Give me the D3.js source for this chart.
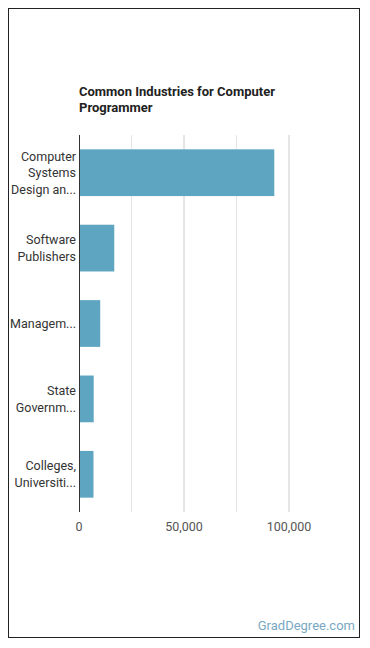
<!DOCTYPE html>
<html><head><meta charset="utf-8">
<script src="https://cdn.jsdelivr.net/npm/d3@7"></script>
<style>body{margin:0;background:#fff;font-family:Roboto,sans-serif;}</style>
</head><body>
<svg id="c" width="370" height="648"></svg>
<script>
const categories = [["Computer","Systems","Design an..."],["Software","Publishers"],["Managem..."],["State","Governm..."],["Colleges,","Universiti..."]];
const values = [93000, 16800, 10100, 7000, 6900];
const ticks = [0, 25000, 50000, 75000, 100000];
const tickLabels = ["0", "", "50,000", "", "100,000"];
const title = ["Common Industries for Computer", "Programmer"];

const svg = d3.select("#c");
svg.append("rect").attr("x",8.5).attr("y",8.5).attr("width",351).attr("height",629)
  .attr("fill","#fff").attr("stroke","#222").attr("stroke-width",1);

const x = d3.scaleLinear().domain([0,100000]).range([79,289]);
const y = d3.scaleBand().domain(d3.range(categories.length)).range([135,512]).paddingInner(0.38).paddingOuter(0.19);

svg.selectAll("text.t").data(title).enter().append("text")
  .attr("x",79).attr("y",(d,i)=>95.5+i*16.5).attr("font-size",13).attr("font-weight","bold")
  .attr("fill","#222").text(d=>d);

svg.append("g").selectAll("line").data(ticks.slice(1)).enter().append("line")
  .attr("x1",d=>x(d)).attr("x2",d=>x(d)).attr("y1",135).attr("y2",512)
  .attr("stroke",(d,i)=>i%2===0?"#e6e6e6":"#cccccc").attr("stroke-width",1);

svg.append("g").selectAll("rect").data(values).enter().append("rect")
  .attr("x",x(0)).attr("y",(d,i)=>y(i)).attr("width",d=>x(d)-x(0)).attr("height",y.bandwidth())
  .attr("fill","#5ea5c1");

svg.append("line").attr("x1",x(0)+0.5).attr("x2",x(0)+0.5).attr("y1",135).attr("y2",512)
  .attr("stroke","#333").attr("stroke-width",1);

const lab = svg.append("g");
categories.forEach((lines,i)=>{
  const cy = y(i)+y.bandwidth()/2;
  const lh = 16.5;
  const start = cy - (lines.length-1)*lh/2;
  lines.forEach((l,j)=>{
    lab.append("text").attr("x",76).attr("y",start+j*lh).attr("dy","0.35em")
      .attr("text-anchor","end").attr("font-size",12.5).attr("fill","#333").text(l);
  });
});

svg.append("g").selectAll("text").data(ticks).enter().append("text")
  .attr("x",d=>x(d)).attr("y",527).attr("dy","0.35em").attr("text-anchor","middle")
  .attr("font-size",12.5).attr("fill","#555").text((d,i)=>tickLabels[i]);

svg.append("text").attr("x",355).attr("y",630).attr("text-anchor","end")
  .attr("font-size",13).attr("fill","#7aa8c2").text("GradDegree.com");
</script>
</body></html>
